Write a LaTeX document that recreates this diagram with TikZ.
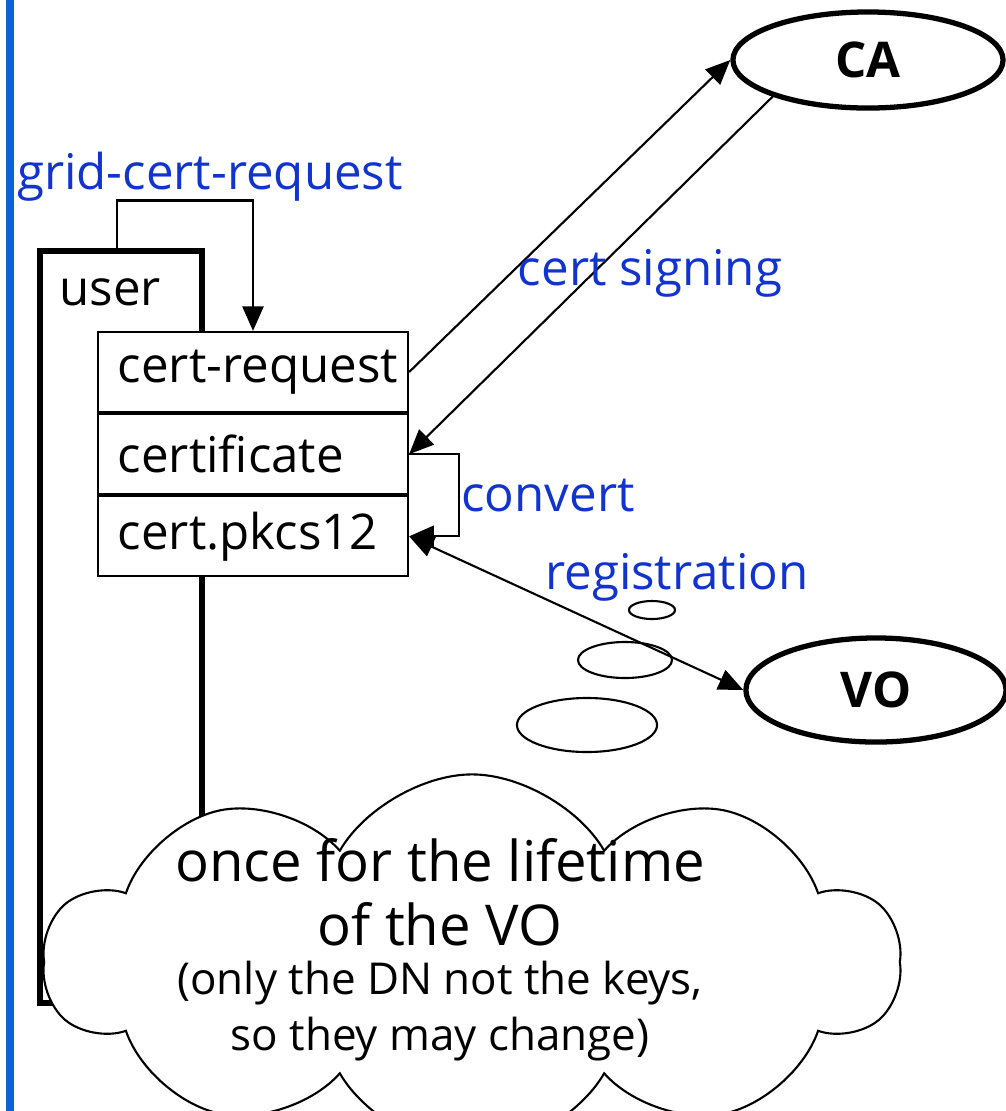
\documentclass[tikz,border=0pt]{standalone}
\usepackage{fontspec}
\setmainfont{Open Sans}
\usetikzlibrary{arrows.meta,positioning,shapes.geometric,shapes.symbols}
\definecolor{labelblue}{RGB}{18,52,206}
\definecolor{barblue}{RGB}{12,100,210}

\begin{document}
\begin{tikzpicture}[x=0.01cm,y=-0.01cm,>={Triangle[length=7pt,width=6pt]},semithick,
		font=\fontsize{14}{16}\selectfont]
		\tikzstyle{certrow}=[draw,fill=white,minimum width=3.1cm,minimum height=0.8cm,
			text width=2.7cm,inner xsep=0.2cm,align=left]
		\tikzstyle{party}=[ellipse,draw,line width=1.5pt,fill=white,font=\fontsize{14}{16}\selectfont\bfseries]
		\tikzstyle{bubble}=[ellipse,draw,semithick,fill=white,inner sep=0pt]
		\tikzstyle{lbl}=[text=labelblue]
		\useasboundingbox (0,0) rectangle (1005,1111);
		
		\draw[barblue,line width=2pt] (10,0) -- (10,1111);
		
		\node[draw,line width=1.6pt,minimum width=1.62cm,minimum height=7.51cm] (user) at (121,627) {};
		\node (userlbl) at (110,292) {user};
		
		\node[certrow] (req) at (253,372) {\mbox{cert-request}};
		\node[certrow,below=0pt of req] (crt) {certificate};
		\node[certrow,below=0pt of crt] (p12) {cert.pkcs12};
		
		\node[party,minimum width=2.7cm,minimum height=0.96cm] (ca) at (868,60) {CA};
		\node[party,minimum width=2.6cm,minimum height=1.04cm] (vo) at (876,690) {VO};
		
		\node[bubble,minimum width=0.46cm,minimum height=0.18cm] (b1) at (652,610) {};
		\node[bubble,minimum width=0.94cm,minimum height=0.36cm] (b2) at (625,660) {};
		\node[bubble,minimum width=1.4cm,minimum height=0.54cm] (b3) at (587,725) {};
		
		\node[cloud,draw,semithick,fill=white,cloud puffs=10,cloud puff arc=120,
			minimum width=8.55cm,minimum height=3.75cm] (note) at (472,962) {};
		\node[align=center,font=\fontsize{16}{16}\selectfont] (notetxt) at (440,950)
			{once for the lifetime\\[2pt] of the VO\\[-2pt]
			{\fontsize{12.5}{15}\selectfont (only the DN not the keys,}\\
			{\fontsize{12.5}{15}\selectfont so they may change)}};
		
		\draw[->] ([xshift=0.8cm]user.north west) -- ++(0,-48) -| (req.north);
		\draw[->] (req.east) -- (ca.west);
		\draw[->] (ca.201) -- (crt.east);
		\draw[->] (crt.east) -- ++(50,0) |- (p12.east);
		\draw[<->] (p12.east) -- (vo.west);
		
		\node[lbl] (gcr) at (210,177) {grid-cert-request};
		\node[lbl] (sign) at (650,273) {cert signing};
		\node[lbl] (conv) at (548,496) {convert};
		\node[lbl] (reg) at (677,577) {registration};
\end{tikzpicture}
\end{document}
